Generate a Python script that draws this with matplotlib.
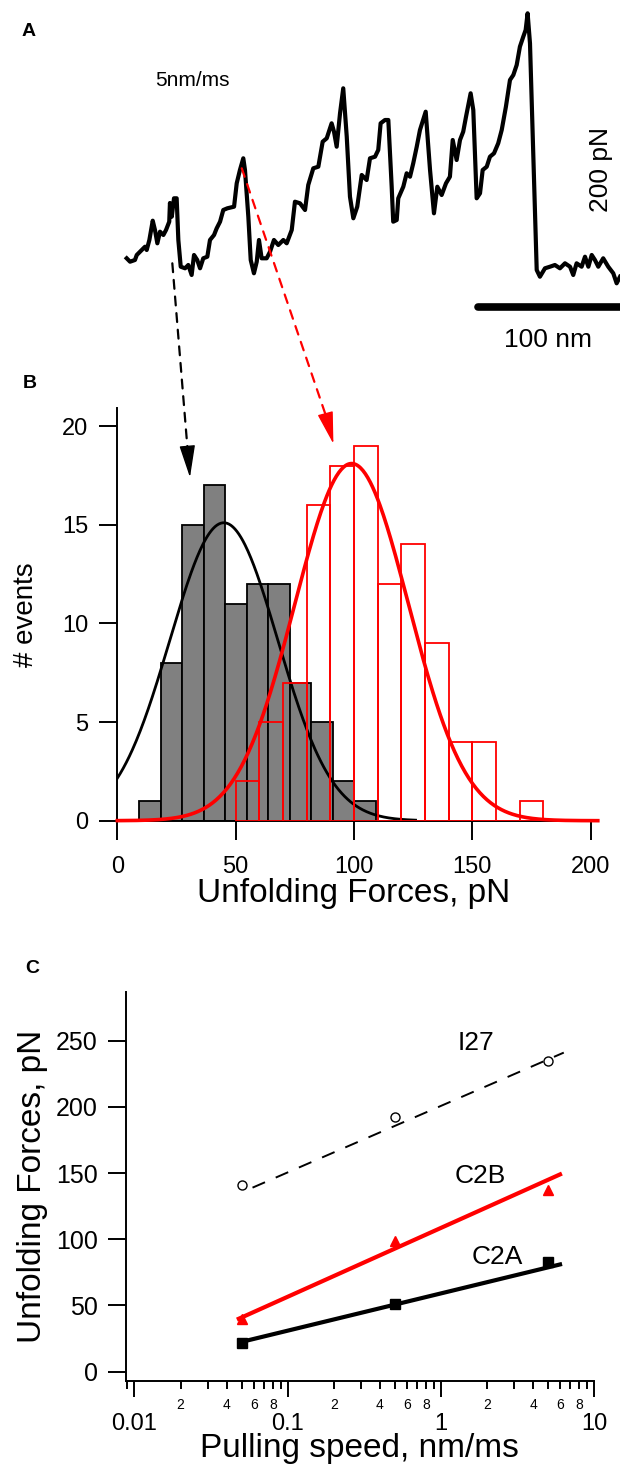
import numpy as np
import matplotlib
matplotlib.use("Agg")
import matplotlib.pyplot as plt
from matplotlib.patches import ConnectionPatch
from matplotlib.ticker import LogLocator, FuncFormatter, FixedLocator

plt.rcParams["font.family"] = ["Liberation Sans", "DejaVu Sans"]

# ---- panel A: force-extension trace at 5 nm/ms ----
trace_ext_nm = [
    1.2, 3.6, 7.1, 8.4, 11.9, 14.3, 15.5, 17.4, 19.8, 21.4, 23.1, 25.0, 27.4, 29.3,
    31.6, 32.1, 33.4, 35.0, 36.9, 38.1, 39.8, 42.9, 45.2, 47.6, 49.3, 51.6, 53.6,
    55.9, 58.8, 60.7, 63.6, 65.5, 67.9, 70.2, 73.1, 77.9, 79.8, 82.1, 84.5, 85.7,
    88.1, 89.8, 92.1, 94.1, 95.7, 97.6, 101.2, 103.6, 106.4, 109.5, 113.1, 115.5,
    119.1, 121.4, 125.0, 128.6, 130.9, 134.5, 138.1, 141.2, 144.1, 147.6, 149.3,
    151.2, 153.6, 155.9, 158.4, 160.7, 163.1, 165.9, 169.1, 172.6, 175.0, 178.6,
    180.9, 182.6, 185.7, 188.1, 190.5, 191.6, 194.1, 195.2, 198.8, 201.2, 203.6,
    205.9, 208.4, 210.7, 214.8, 217.9, 220.7, 223.1, 226.2, 229.3, 232.1, 234.1,
    236.9, 239.3, 241.6, 243.6, 246.9, 248.8, 251.2, 253.6, 255.5, 258.4, 260.7,
    263.6, 266.6, 269.1, 272.1, 275.0, 277.4, 279.8, 282.1, 284.5, 286.2, 287.6,
    289.3, 294.1, 296.4, 300.0, 303.6, 307.1, 310.7, 314.3, 317.9, 320.2, 322.6,
    326.2, 328.6, 331.0, 333.4, 335.7, 338.1, 341.6, 345.2, 348.8, 351.2, 353.6,
]
trace_force_pn = [
    21.7, 18.3, 20.0, 25.0, 30.0, 33.3, 30.0, 40.0, 59.3, 50.0, 36.7, 48.3, 45.0, 50.0,
    58.3, 77.0, 63.3, 81.7, 81.7, 40.0, 13.3, 11.7, 15.0, 5.0, 25.0, 20.0, 11.7,
    21.7, 23.3, 40.0, 45.0, 51.7, 58.3, 70.0, 71.7, 73.3, 96.7, 110.0, 121.7, 110.0,
    63.3, 20.0, 6.7, 18.3, 40.0, 21.7, 21.7, 28.3, 40.0, 35.0, 40.0, 36.7,
    50.0, 78.3, 76.7, 70.0, 95.0, 111.7, 113.3, 138.3, 141.7, 156.7, 148.3,
    133.3, 166.7, 191.7, 143.3, 83.3, 61.7, 73.3, 105.0, 100.0, 121.7, 123.3,
    130.0, 156.7, 160.0, 160.0, 93.3, 58.3, 60.0, 81.7, 93.3, 106.7, 103.3,
    116.7, 133.3, 150.0, 168.3, 110.0, 66.7, 93.3, 85.0, 96.7, 103.3, 140.0,
    120.0, 140.0, 148.3, 163.3, 186.7, 170.0, 81.7, 86.7, 110.0, 113.3, 123.3,
    126.7, 136.7, 150.0, 173.3, 200.0, 205.0, 215.0, 233.3, 243.3, 250.0, 266.7,
    236.7, 10.0, 3.3, 11.7, 13.3, 15.0, 11.7, 16.7, 13.3, 5.0, 16.7,
    13.3, 23.3, 13.3, 25.0, 20.0, 13.3, 21.7, 13.3, 6.7, -3.3, 3.3,
]

# ---- panel B: unfolding force histograms ----
gray_bin_start = 9.2
gray_bin_width = 9.1
gray_counts = [1, 8, 15, 17, 11, 12, 12, 7, 5, 2, 1]
red_bin_start = 50
red_bin_width = 10
red_counts = [2, 5, 7, 16, 18, 19, 12, 14, 9, 4, 4, 0, 1]
# gaussian fits: amplitude, centre (pN), width (pN), drawn range
black_fit_amp, black_fit_mean, black_fit_sd, black_fit_range = 15.1, 45.0, 22.8, (0, 126)
red_fit_amp, red_fit_mean, red_fit_sd, red_fit_range = 18.1, 99.0, 24.0, (0, 203)

# ---- panel C: force vs pulling speed ----
speed = [0.05, 0.5, 5.0]
force_i27 = [141, 192, 235]
force_c2b = [40, 99, 137]
force_c2a = [22, 51, 83]
fit_speed_i27 = [0.059, 6.35]
fit_force_i27 = [139, 241]
fit_speed_c2b = [0.048, 6.0]
fit_force_c2b = [40, 149]
fit_speed_c2a = [0.05, 6.0]
fit_force_c2a = [22.5, 81]

fig = plt.figure(figsize=(6.2, 14.7), dpi=100)

# ---------------- A ----------------
ax_a = fig.add_axes([0, 1 - 380 / 1470, 1, 380 / 1470])
ax_a.set_xlim(-89.3, 353.6)
ax_a.set_ylim(-100, 280)
ax_a.axis("off")
ax_a.plot(trace_ext_nm, trace_force_pn, color="black", lw=3.0, solid_joinstyle="round")
ax_a.plot([252, 356], [-27, -27], color="black", lw=5.5, solid_capstyle="round", clip_on=False)
ax_a.text(302, -60, "100 nm", ha="center", va="center", fontsize=19)
ax_a.text(340, 110, "200 pN", ha="center", va="center", rotation=90, fontsize=19)
ax_a.text(48, 200, "5nm/ms", ha="center", va="center", fontsize=15)
ax_a.text(-68.6, 248, "A", ha="center", va="center", fontsize=14, fontweight="bold")

# ---------------- B ----------------
ax_b = fig.add_axes([117.3 / 620, (1470 - 820.7) / 1470, 473.4 / 620, 412.4 / 1470])
gray_left = [gray_bin_start + i * gray_bin_width for i in range(len(gray_counts))]
red_left = [red_bin_start + i * red_bin_width for i in range(len(red_counts))]
ax_b.bar(gray_left, gray_counts, width=gray_bin_width, align="edge", color="#808080",
         edgecolor="black", linewidth=1.3, zorder=1)
xb = np.linspace(*black_fit_range, 300)
ax_b.plot(xb, black_fit_amp * np.exp(-(xb - black_fit_mean) ** 2 / (2 * black_fit_sd ** 2)),
          color="black", lw=2.0, zorder=2)
ax_b.bar(red_left, red_counts, width=red_bin_width, align="edge", fill=False,
         edgecolor="red", linewidth=1.3, zorder=3)
xr = np.linspace(*red_fit_range, 400)
ax_b.plot(xr, red_fit_amp * np.exp(-(xr - red_fit_mean) ** 2 / (2 * red_fit_sd ** 2)),
          color="red", lw=2.6, zorder=4, clip_on=False)
ax_b.set_xlim(0, 200)
ax_b.set_ylim(0, 20.9)
ax_b.set_xticks([0, 50, 100, 150, 200])
ax_b.set_yticks([0, 5, 10, 15, 20])
for s in ("top", "right"):
    ax_b.spines[s].set_visible(False)
for s in ("left", "bottom"):
    ax_b.spines[s].set_linewidth(1.4)
ax_b.tick_params(axis="y", length=13, width=1.4, pad=8, labelsize=17)
ax_b.tick_params(axis="x", length=13.4, width=1.4, pad=12, labelsize=17)
ax_b.set_ylabel("# events", fontsize=20)
ax_b.yaxis.set_label_coords(-0.165, 0.5)
ax_b.set_xlabel("Unfolding Forces, pN", fontsize=24)
ax_b.xaxis.set_label_coords(0.5, -0.14)
ax_b.text(-0.185, 1.06, "B", transform=ax_b.transAxes, ha="center", va="center",
          fontsize=14, fontweight="bold")

# dashed arrows from the trace peaks down to the histograms
arrows = [((33.8, 16.7), (29.7, 18.8), (30.7, 17.4), "black"),
          ((83.4, 111.7), (88.2, 20.5), (91.3, 19.1), "red")]
for start, base, tip, col in arrows:
    con = ConnectionPatch(xyA=start, coordsA=ax_a.transData, xyB=base, coordsB=ax_b.transData,
                          arrowstyle="-", color=col, lw=1.6, linestyle=(0, (4, 3.5)))
    fig.add_artist(con)
    ax_b.annotate("", xy=tip, xytext=base, annotation_clip=False,
                  arrowprops=dict(arrowstyle="-|>,head_length=1.35,head_width=0.33",
                                  mutation_scale=15, color=col, lw=1.0,
                                  shrinkA=0, shrinkB=0))

# ---------------- C ----------------
ax_c = fig.add_axes([125.7 / 620, (1470 - 1380.7) / 1470, 468.3 / 620, 389 / 1470])
ax_c.set_xscale("log")
ax_c.plot(fit_speed_i27, fit_force_i27, color="black", lw=1.4, linestyle=(0, (7, 6)))
ax_c.plot(speed, force_i27, "o", mfc="white", mec="black", mew=1.0, ms=6.5, ls="none")
ax_c.plot(fit_speed_c2b, fit_force_c2b, color="red", lw=3.0)
ax_c.plot(speed, force_c2b, "^", color="red", ms=7.5, ls="none")
ax_c.plot(fit_speed_c2a, fit_force_c2a, color="black", lw=3.0)
ax_c.plot(speed, force_c2a, "s", color="black", ms=7, ls="none")
ax_c.text(1.7, 248, "I27", ha="center", va="center", fontsize=19)
ax_c.text(1.8, 148, "C2B", ha="center", va="center", fontsize=19)
ax_c.text(2.35, 86.5, "C2A", ha="center", va="center", fontsize=19)
ax_c.set_xlim(0.00877, 10)
ax_c.set_ylim(-6.8, 287)
ax_c.set_yticks([0, 50, 100, 150, 200, 250])
ax_c.xaxis.set_major_locator(FixedLocator([0.01, 0.1, 1, 10]))
ax_c.xaxis.set_major_formatter(FuncFormatter(lambda v, p: f"{v:g}"))
ax_c.xaxis.set_minor_locator(LogLocator(base=10, subs=np.arange(2, 10), numticks=20))


def minor_fmt(v, p):
    lead = int(round(v / 10 ** np.floor(np.log10(v) + 1e-9)))
    return str(lead) if lead in (2, 4, 6, 8) else ""


ax_c.xaxis.set_minor_formatter(FuncFormatter(minor_fmt))
for s in ("top", "right"):
    ax_c.spines[s].set_visible(False)
for s in ("left", "bottom"):
    ax_c.spines[s].set_linewidth(1.4)
ax_c.tick_params(axis="y", length=13, width=1.4, pad=7, labelsize=18)
ax_c.tick_params(axis="x", which="major", length=11.5, width=1.4, pad=12, labelsize=17)
ax_c.tick_params(axis="x", which="minor", length=5.5, width=1.4, pad=7, labelsize=10)
ax_c.set_ylabel("Unfolding Forces, pN", fontsize=24)
ax_c.yaxis.set_label_coords(-0.165, 0.5)
ax_c.set_xlabel("Pulling speed, nm/ms", fontsize=24)
ax_c.xaxis.set_label_coords(0.5, -0.135)
ax_c.text(-0.2, 1.06, "C", transform=ax_c.transAxes, ha="center", va="center",
          fontsize=14, fontweight="bold")

fig.savefig("out.png", dpi=100)
